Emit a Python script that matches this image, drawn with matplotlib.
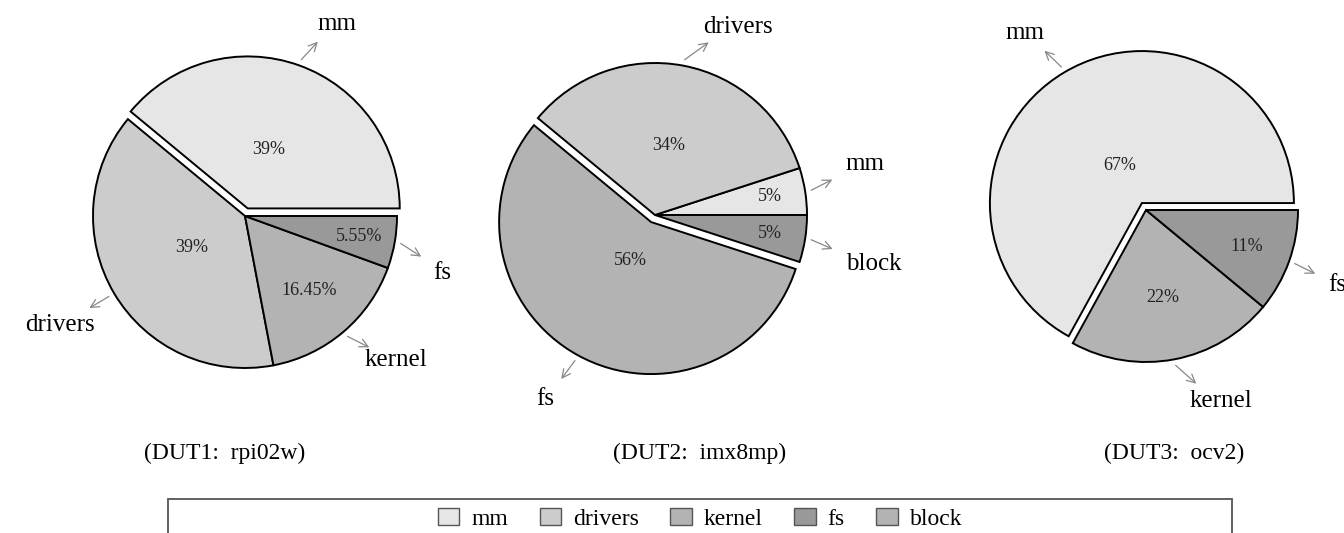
import matplotlib.pyplot as plt
import numpy as np
from matplotlib.patches import Patch, Rectangle, FancyArrowPatch

plt.rcParams['font.family'] = ['Liberation Serif', 'DejaVu Serif']

# DUT1: rpi02w
dut1_labels = ["mm", "drivers", "kernel", "fs"]
dut1_values = [39, 39, 16.45, 5.55]
dut1_colors = ["#e6e6e6", "#cccccc", "#b3b3b3", "#999999"]
dut1_explode = [0.053, 0, 0, 0]

# DUT2: imx8mp
dut2_labels = ["mm", "drivers", "fs", "block"]
dut2_values = [5, 34, 56, 5]
dut2_colors = ["#e6e6e6", "#cccccc", "#b3b3b3", "#999999"]
dut2_explode = [0, 0, 0.053, 0]

# DUT3: ocv2
dut3_labels = ["mm", "kernel", "fs"]
dut3_values = [67, 22, 11]
dut3_colors = ["#e6e6e6", "#b3b3b3", "#999999"]
dut3_explode = [0.053, 0, 0]

titles = ["(DUT1:  rpi02w)", "(DUT2:  imx8mp)", "(DUT3:  ocv2)"]

legend_labels = ["mm", "drivers", "kernel", "fs", "block"]
legend_colors = ["#e6e6e6", "#cccccc", "#b3b3b3", "#999999", "#b3b3b3"]

# layout (pixels, y from top)
W, H = 1344, 533
R = 152
centers = [(245, 216), (655, 215), (1146, 210)]
title_x = [225, 700, 1174]
# small angle nudges for outer labels (degrees)
nudges = [
    {"mm": -6, "drivers": 0, "kernel": 6, "fs": -6},
    {"mm": 4.6, "drivers": -13, "fs": -2, "block": -3.7},
    {"mm": 4, "kernel": 10.7, "fs": -1.7},
]

pies = [
    (dut1_labels, dut1_values, dut1_colors, dut1_explode),
    (dut2_labels, dut2_values, dut2_colors, dut2_explode),
    (dut3_labels, dut3_values, dut3_colors, dut3_explode),
]

fig = plt.figure(figsize=(W / 100, H / 100), dpi=100)
ax = fig.add_axes([0, 0, 1, 1])
renderer = fig.canvas.get_renderer()

for i, (labels, values, colors, explode) in enumerate(pies):
    cx, cy = centers[i]
    # explode is given as fraction of the radius
    wedges, _ = ax.pie(values, colors=colors, explode=[e * R for e in explode],
                       startangle=0, counterclock=True, radius=R, center=(cx, H - cy),
                       wedgeprops=dict(edgecolor="black", linewidth=1.4))
    for w, lab, v in zip(wedges, labels, values):
        mid = np.deg2rad((w.theta1 + w.theta2) / 2)
        wx, wy = w.center
        # percentage inside the slice
        rp = max(0.29, 0.82 - 0.0105 * v) * R
        ax.text(wx + rp * np.cos(mid), wy + rp * np.sin(mid), f"{v:g}%",
                fontsize=13, color="#222222", ha="center", va="center")
        # outer label
        lang = mid + np.deg2rad(nudges[i][lab])
        t = ax.text(0, 0, lab, fontsize=18, ha="center", va="center")
        bb = t.get_window_extent(renderer=renderer)
        hw, hh = bb.width / 2 + 3, bb.height / 2
        c, s = np.cos(lang), np.sin(lang)
        tt = min(hw / max(abs(c), 1e-6), hh / max(abs(s), 1e-6))
        t.set_position((wx + 1.27 * R * c + tt * c, wy + 1.27 * R * s + tt * s))
        # arrow
        aang = mid + np.deg2rad(nudges[i][lab]) / 2
        p1 = (wx + 1.04 * R * np.cos(mid), wy + 1.04 * R * np.sin(mid))
        p2 = (wx + 1.19 * R * np.cos(aang), wy + 1.19 * R * np.sin(aang))
        ax.add_patch(FancyArrowPatch(p1, p2, arrowstyle="->,head_length=0.6,head_width=0.3",
                                     mutation_scale=10, color="#888888", lw=0.9,
                                     shrinkA=0, shrinkB=0))
    ax.text(title_x[i], H - 459, titles[i], fontsize=17, ha="center", va="baseline")

ax.set_xlim(0, W)
ax.set_ylim(0, H)
ax.set_aspect("equal")
ax.axis("off")

# legend and its frame
ax.add_patch(Rectangle((168, -30), 1232 - 168, H - 499 + 30, fill=False,
                       edgecolor="#555555", linewidth=1.3, clip_on=False))
handles = [Patch(facecolor=c, edgecolor="#555555", linewidth=1) for c in legend_colors]
fig.legend(handles, legend_labels, ncol=5, loc="center",
           bbox_to_anchor=(700 / W, 1 - 519 / H), frameon=False, fontsize=17,
           handlelength=0.9, handleheight=0.76, handletextpad=0.5, columnspacing=1.35)

fig.savefig("out.png", dpi=100)
